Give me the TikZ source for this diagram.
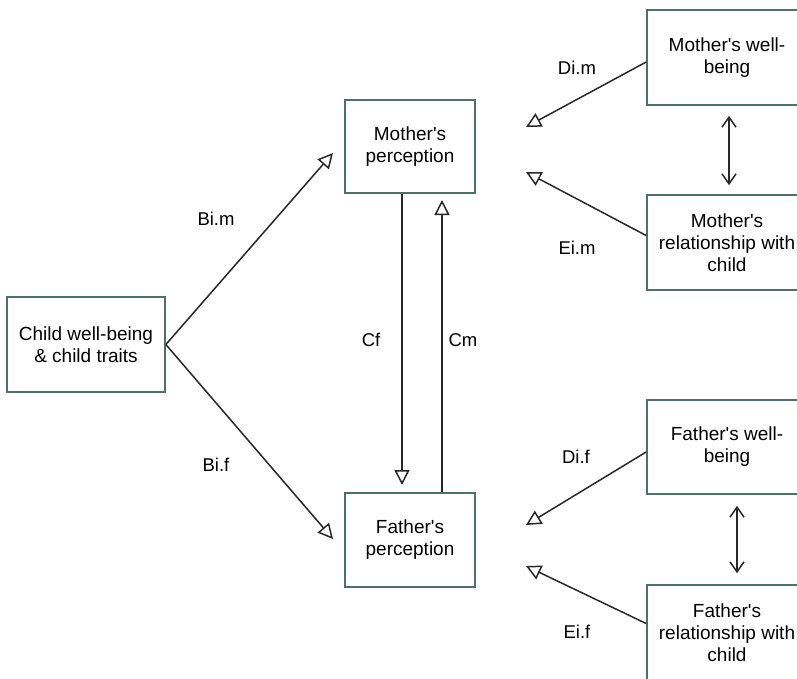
\documentclass[tikz,border=0pt]{standalone}
\usepackage{fontspec}
\setmainfont{Liberation Sans}[Ligatures=TeXOff]
\usetikzlibrary{arrows.meta}
\definecolor{boxc}{RGB}{78,112,104}
\definecolor{linec}{RGB}{40,40,40}
\tikzset{
  box/.style={draw=boxc, line width=1.7pt, fill=white, align=center,
    inner sep=0pt, font=\fontsize{19}{22}\selectfont},
  arr/.style={draw=linec, line width=1.5pt,
    -{Triangle[open, length=15pt, width=15pt, line width=1.5pt]}},
  darr/.style={draw=linec, line width=1.5pt,
    {Straight Barb[length=10pt, width=14pt, line width=1.5pt]}-{Straight Barb[length=10pt, width=14pt, line width=1.5pt]}},
  lbl/.style={font=\fontsize{18.5}{21}\selectfont, inner sep=0pt}
}
\begin{document}
\begin{tikzpicture}[x=1pt, y=-1pt]
\useasboundingbox (0,0) rectangle (797,678);
\clip (0,0) rectangle (797,678);
\fill[white] (0,0) rectangle (797,678);

\node[box, minimum width=158pt, minimum height=95pt] (child) at (86,344.5) {Child well-being\\\& child traits};
\node[box, minimum width=130pt, minimum height=93pt] (mp) at (410,146.5) {Mother's\\perception};
\node[box, minimum width=130pt, minimum height=94pt] (fp) at (410,540) {Father's\\perception};
\node[box, minimum width=160pt, minimum height=95pt] (mwb) at (727,57.5) {Mother's well-\\being};
\node[box, minimum width=160pt, minimum height=95pt] (mrc) at (727,242.5) {Mother's\\relationship with\\child};
\node[box, minimum width=160pt, minimum height=94pt] (fwb) at (727,447) {Father's well-\\being};
\node[box, minimum width=160pt, minimum height=95pt] (frc) at (727,632.5) {Father's\\relationship with\\child};

\coordinate (tBim) at (333,153);
\coordinate (tBif) at (333,539);
\coordinate (tCf) at (402,485);
\coordinate (tCm) at (442,200);
\coordinate (tDim) at (526,127);
\coordinate (tEim) at (526,172);
\coordinate (tDif) at (526,525);
\coordinate (tEif) at (526,566);

\draw[arr] (child.east) -- (tBim);
\draw[arr] (child.east) -- (tBif);
\draw[arr] (mp.south -| tCf) -- (tCf);
\draw[arr] (fp.north -| tCm) -- (tCm);
\draw[arr] ([yshift=-4.5pt]mwb.west) -- (tDim);
\draw[arr] ([yshift=7pt]mrc.west) -- (tEim);
\draw[arr] ([yshift=-5pt]fwb.west) -- (tDif);
\draw[arr] ([yshift=9pt]frc.west) -- (tEif);

\draw[darr] ([xshift=2pt,yshift=-10pt]mwb.south) -- ([xshift=2pt,yshift=9pt]mrc.north);
\draw[darr] ([xshift=10pt,yshift=-11pt]fwb.south) -- ([xshift=10pt,yshift=11pt]frc.north);

\node[lbl] (lBim) at (216,219) {Bi.m};
\node[lbl] (lBif) at (216,465) {Bi.f};
\node[lbl] (lCf) at (371,340) {Cf};
\node[lbl] (lCm) at (463,340) {Cm};
\node[lbl] (lDim) at (577,68) {Di.m};
\node[lbl] (lEim) at (577,248) {Ei.m};
\node[lbl] (lDif) at (576,457) {Di.f};
\node[lbl] (lEif) at (577,632) {Ei.f};
\end{tikzpicture}
\end{document}
